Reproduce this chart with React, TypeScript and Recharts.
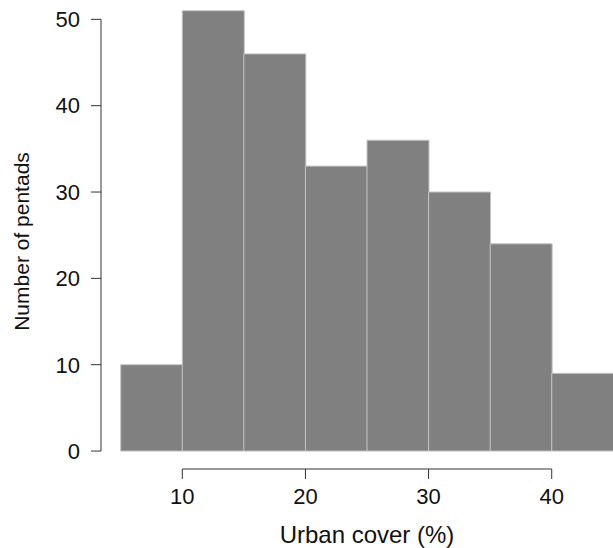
import { BarChart, Bar, XAxis, YAxis, ReferenceLine } from 'recharts'

// Histogram of urban cover per pentad, 5% bins from 5 to 45
const binEdges = [5, 10, 15, 20, 25, 30, 35, 40, 45]
const pentadCounts = [10, 51, 46, 33, 36, 30, 24, 9]
const xTicks = [10, 20, 30, 40]
const yTicks = [0, 10, 20, 30, 40, 50]

const CHART_W = 640
const CHART_H = 548
const Y_AXIS_W = 101
const X_AXIS_H = 79
const MARGIN = { top: 0, right: 7, left: 0, bottom: 0 }

// R-style axis ranges: bins span 5..45, extended by 4% on each side
const BIN_START = binEdges[0]
const BIN_END = binEdges[binEdges.length - 1]
const X_MIN = 3.4
const X_MAX = 46.6
const Y_MIN = -2.08
const Y_MAX = 52.24

const PLOT_W = CHART_W - MARGIN.left - MARGIN.right - Y_AXIS_W
const PAD_L = (PLOT_W * (BIN_START - X_MIN)) / (X_MAX - X_MIN)
const PAD_R = (PLOT_W * (X_MAX - BIN_END)) / (X_MAX - X_MIN)

const FONT = '"Liberation Sans", Arial, sans-serif'
const TEXT = '#111111'
const AXIS = '#333333'
const TICK_FONT = 22

const data = pentadCounts.map((count, i) => ({
  bin: `${binEdges[i]}-${binEdges[i + 1]}`,
  mid: (binEdges[i] + binEdges[i + 1]) / 2,
  count,
}))

const YTitle = ({ viewBox }: any) => {
  const x = viewBox.x + 29
  const y = viewBox.y + viewBox.height / 2 + 7
  return (
    <text
      x={x}
      y={y}
      transform={`rotate(-90 ${x} ${y})`}
      textAnchor="middle"
      fontFamily={FONT}
      fontSize={21}
      fill={TEXT}
    >
      Number of pentads
    </text>
  )
}

export default function App() {
  return (
    <div
      style={{
        position: 'absolute',
        left: 0,
        top: 0,
        width: 613,
        height: 548,
        overflow: 'hidden',
        background: '#fff',
      }}
    >
      <BarChart width={CHART_W} height={CHART_H} data={data} margin={MARGIN} barCategoryGap={0}>
        <XAxis
          xAxisId="bins"
          dataKey="bin"
          type="category"
          hide
          height={0}
          padding={{ left: PAD_L, right: PAD_R }}
        />
        <XAxis
          xAxisId="num"
          dataKey="mid"
          type="number"
          domain={[X_MIN, X_MAX]}
          ticks={xTicks}
          allowDataOverflow
          height={X_AXIS_H}
          axisLine={false}
          tickSize={10}
          tickMargin={9}
          tickLine={{ stroke: AXIS }}
          tick={{ fill: TEXT, fontSize: TICK_FONT, fontFamily: FONT }}
          label={{
            value: 'Urban cover (%)',
            position: 'insideBottom',
            offset: 5,
            fill: TEXT,
            fontSize: 24,
            fontFamily: FONT,
          }}
        />
        <YAxis
          type="number"
          domain={[Y_MIN, Y_MAX]}
          ticks={yTicks}
          allowDataOverflow
          width={Y_AXIS_W}
          axisLine={false}
          tickSize={10}
          tickMargin={11}
          tickLine={{ stroke: AXIS }}
          tick={{ fill: TEXT, fontSize: TICK_FONT, fontFamily: FONT }}
          label={<YTitle />}
        />
        <Bar
          xAxisId="bins"
          dataKey="count"
          fill="#808080"
          stroke="#c4c4c4"
          strokeWidth={1}
          isAnimationActive={false}
        />
        {/* axis lines only span the tick range, like base R graphics */}
        <ReferenceLine
          xAxisId="num"
          segment={[{ x: xTicks[0], y: Y_MIN }, { x: xTicks[xTicks.length - 1], y: Y_MIN }]}
          stroke={AXIS}
          ifOverflow="visible"
        />
        <ReferenceLine
          xAxisId="num"
          segment={[{ x: X_MIN, y: yTicks[0] }, { x: X_MIN, y: yTicks[yTicks.length - 1] }]}
          stroke={AXIS}
          ifOverflow="visible"
        />
      </BarChart>
    </div>
  )
}
